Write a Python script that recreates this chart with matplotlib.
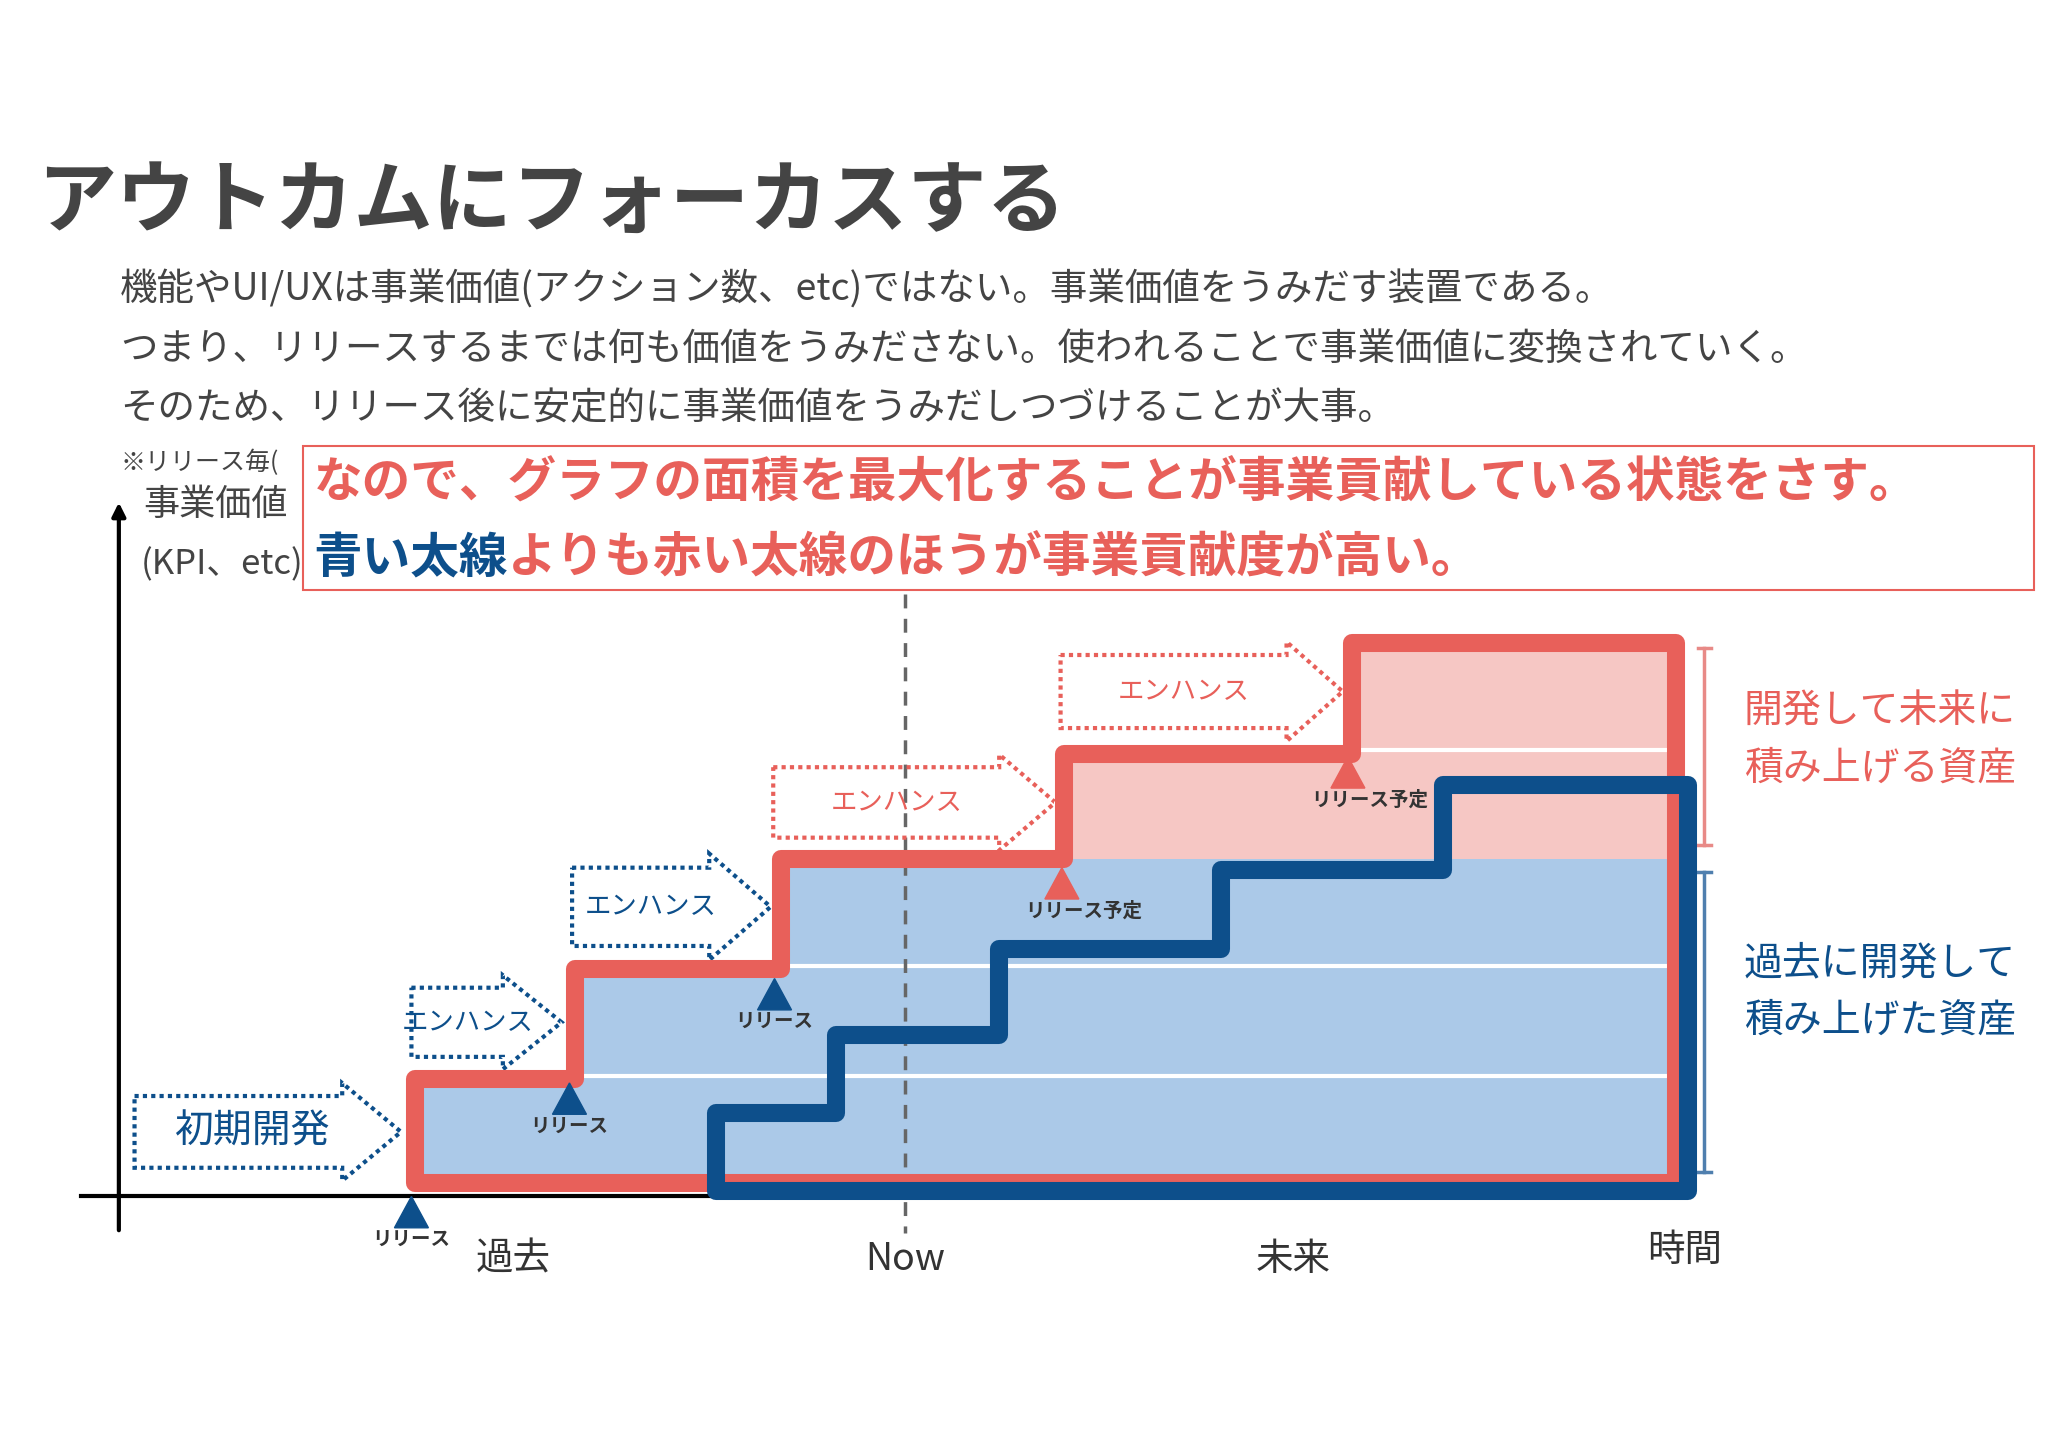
import matplotlib
matplotlib.use("Agg")
import matplotlib.pyplot as plt
from matplotlib.patches import Polygon, Rectangle
import numpy as np

plt.rcParams['font.family'] = ['Noto Sans CJK JP', 'DejaVu Sans']

# ---- data (reference slide coordinates, 1568 x 1109 units) ----
red_x = [318, 440, 598, 815, 1035, 1283]
red_y = [827, 743, 658, 578, 493]
blue_x = [548, 640, 765, 935, 1105, 1292]
blue_y = [853, 793, 727, 667, 602]
base_red = 907
base_blue = 913
split_y = 658
white_lines = [825, 740, 575]

title = "アウトカムにフォーカスする"
body = ["機能やUI/UXは事業価値(アクション数、etc)ではない。事業価値をうみだす装置である。",
        "つまり、リリースするまでは何も価値をうみださない。使われることで事業価値に変換されていく。",
        "そのため、リリース後に安定的に事業価値をうみだしつづけることが大事。"]
box_line1 = "なので、グラフの面積を最大化することが事業貢献している状態をさす。"
box_line2a = "青い太線"
box_line2b = "よりも赤い太線のほうが事業貢献度が高い。"
x_labels = ["過去", "Now", "未来", "時間"]
x_label_pos = [393, 693, 990, 1290]

releases = [(315, 917, "リリース", 'b'), (436, 830, "リリース", 'b'), (593, 750, "リリース", 'b'),
            (813, 665, "リリース予定", 'r'), (1032, 580, "リリース予定", 'r')]
arrows = [(103, 262, 307, 840, 895, "初期開発", 'b'), (315, 385, 430, 757, 810, "エンハンス", 'b'),
          (438, 543, 590, 665, 725, "エンハンス", 'b'), (592, 765, 808, 588, 642, "エンハンス", 'r'),
          (812, 985, 1028, 502, 558, "エンハンス", 'r')]

RED = '#e8605a'
PINK = '#f6c7c4'
LBLUE = '#abc9e8'
DBLUE = '#0d4f8b'
GRAY = '#444444'

fig = plt.figure(figsize=(20.48, 14.47), dpi=100)
ax = fig.add_axes([0, 0, 1, 1])
ax.set_xlim(0, 1568)
ax.set_ylim(1109, 0)
ax.axis('off')

def steps(xs, ys, base):
    pts = [(xs[0], base), (xs[0], ys[0])]
    for i in range(1, len(ys)):
        pts += [(xs[i], ys[i-1]), (xs[i], ys[i])]
    pts += [(xs[-1], ys[-1]), (xs[-1], base)]
    return pts

red_pts = steps(red_x, red_y, base_red)
# fills
clip_poly = Polygon(red_pts, closed=True, facecolor=PINK, edgecolor='none', zorder=1)
ax.add_patch(clip_poly)
blue_rect = Rectangle((red_x[0], split_y), red_x[-1]-red_x[0], base_red-split_y, facecolor=LBLUE, edgecolor='none', zorder=1.5)
ax.add_patch(blue_rect)
blue_rect.set_clip_path(clip_poly)
for wy in white_lines:
    ln, = ax.plot([red_x[0]+10, red_x[-1]-5], [wy, wy], color='white', lw=3, zorder=2)
    ln.set_clip_path(clip_poly)

# axes
ax.annotate("", xy=(91, 383), xytext=(91, 945), arrowprops=dict(arrowstyle='-|>', color='black', lw=3, mutation_scale=20), zorder=2)
ax.plot([62, 1290], [917, 917], color='black', lw=3, zorder=1.8)
ax.plot([693, 693], [455, 945], color='#666666', lw=2.5, ls=(0, (4, 3)), zorder=2.5)

ax.add_patch(Polygon(red_pts, closed=True, facecolor='none', edgecolor=RED, lw=13, joinstyle='round', zorder=3))
ax.add_patch(Polygon(steps(blue_x, blue_y, base_blue), closed=True, facecolor='none', edgecolor=DBLUE, lw=13, joinstyle='round', zorder=4))

# brackets
for x0, y0, y1, c in [(1305, 497, 648, '#e88a87'), (1305, 668, 898, '#4f7fae')]:
    ax.plot([x0, x0], [y0, y1], color=c, lw=2.5, zorder=2)
    ax.plot([x0-5, x0+5], [y0, y0], color=c, lw=2.5)
    ax.plot([x0-5, x0+5], [y1, y1], color=c, lw=2.5)

# releases
for x, y, lab, c in releases:
    col = DBLUE if c == 'b' else RED
    ax.add_patch(Polygon([(x, y), (x-13, y+24), (x+13, y+24)], closed=True, color=col, zorder=5))
    dx = 0 if c == 'b' else 17
    ax.text(x+dx, y+33, lab, fontsize=14, fontweight='bold', color='#333333', ha='center', va='center', zorder=5)

# dotted arrows
for xl, xr, xt, yt, yb, lab, c in arrows:
    col = DBLUE if c == 'b' else RED
    ym = (yt+yb)/2
    h = (yb-yt)
    pts = [(xl, yt), (xr, yt), (xr, yt-h*0.18), (xt, ym), (xr, yb+h*0.18), (xr, yb), (xl, yb)]
    ax.add_patch(Polygon(pts, closed=True, facecolor='none', edgecolor=col, lw=3, ls=(0, (1, 1)), zorder=2.6))
    fs = 28 if lab == "初期開発" else 19
    ax.text((xl+xr)/2 + (8 if lab != "初期開発" else 10), ym, lab, fontsize=fs, color=col, ha='center', va='center', zorder=2.7)

# texts
ax.text(28, 155, title, fontsize=57, fontweight='bold', color=GRAY, va='center', ha='left')
for i, line in enumerate(body):
    ax.text(92, 222 + 45.5*i, line, fontsize=27, color=GRAY, va='center', ha='left')
ax.text(92, 355, "※リリース毎(", fontsize=18, color=GRAY, va='center')
ax.text(110, 387, "事業価値", fontsize=26, color=GRAY, va='center')
ax.text(108, 433, "(KPI、etc)", fontsize=25, color=GRAY, va='center')

ax.add_patch(Rectangle((232, 342), 1325, 110, facecolor='white', edgecolor=RED, lw=1.5, zorder=6))
ax.text(240, 370, box_line1, fontsize=35, fontweight='bold', color=RED, va='center', ha='left', zorder=7)
t1 = ax.text(240, 428, box_line2a, fontsize=35, fontweight='bold', color=DBLUE, va='center', ha='left', zorder=7)
ax.annotate(box_line2b, xy=(1, 0.5), xycoords=t1, va='center', ha='left', fontsize=35, fontweight='bold', color=RED, zorder=7)

for t, c, yy in [("開発して未来に", RED, 545), ("積み上げる資産", RED, 589), ("過去に開発して", DBLUE, 738), ("積み上げた資産", DBLUE, 782)]:
    ax.text(1335, yy, t, fontsize=28, color=c, va='center', ha='left')

for lab, x in zip(x_labels, x_label_pos):
    ax.text(x, 965 if lab != "時間" else 958, lab, fontsize=27, color='#333333', ha='center', va='center')

fig.savefig("out.png", dpi=100, facecolor='white')
